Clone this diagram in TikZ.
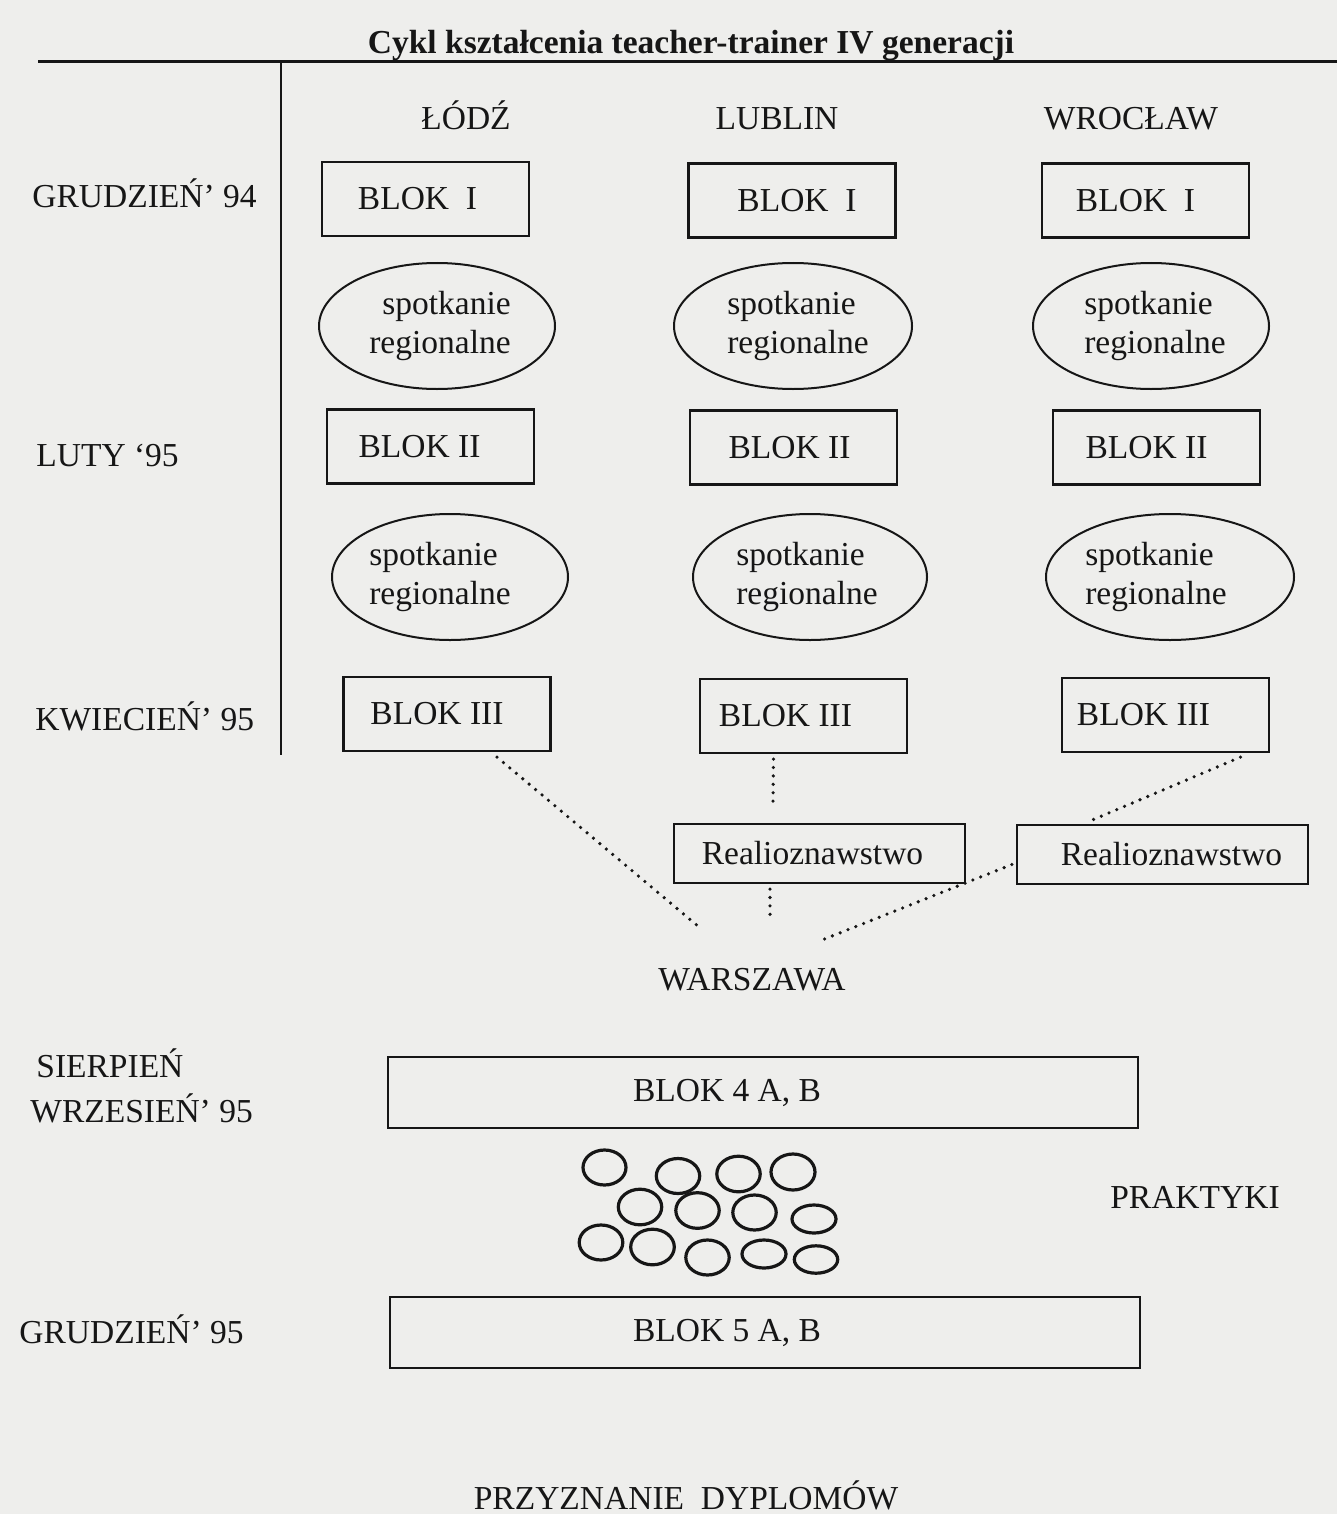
\documentclass[tikz,border=0pt]{standalone}
\usepackage{fontspec}
\setmainfont{Liberation Serif}
\usetikzlibrary{shapes.geometric}
\definecolor{paper}{RGB}{238,238,236}
\definecolor{ink}{RGB}{22,22,22}
\newcommand\pushL[2]{#2\kern#1pt}
\newcommand\pushR[2]{\kern#1pt#2}
\tikzset{
  txt/.style={font=\fontsize{16.75}{19.5}\selectfont, text=ink, inner sep=0pt},
  blok/.style={txt, draw=ink, line width=1.1pt, rectangle, minimum width=103.5pt, minimum height=37pt},
  realio/.style={txt, draw=ink, line width=1.1pt, rectangle, minimum width=145.5pt, minimum height=29.5pt},
  widebox/.style={txt, draw=ink, line width=1.1pt, rectangle, minimum width=375pt, minimum height=35.5pt},
  ovalnode/.style={txt, draw=ink, line width=1pt, ellipse, minimum height=63pt},
  ringnode/.style={draw=ink, line width=1.6pt, ellipse, inner sep=0pt},
  dotline/.style={draw=ink, line width=1.8pt, line cap=round, dash pattern=on 0pt off 4.2pt},
  ruleline/.style={draw=ink, line width=1.5pt},
}
\begin{document}
\begin{tikzpicture}[x=0.5pt,y=-0.5pt]
\fill[paper] (0,0) rectangle (1337,1514);
\useasboundingbox (0,0) rectangle (1337,1514);

% title and frame lines
\node[txt, font={\fontsize{16.75}{19.5}\selectfont\bfseries}, anchor=base] (title) at (691,54) {Cykl kształcenia teacher-trainer IV generacji};
\coordinate (hl) at (38,62); \coordinate (hr) at (1337,62);
\draw[ruleline] (hl) -- (hr);
\coordinate (vt) at (281,62); \coordinate (vb) at (281,755);
\draw[draw=ink, line width=1.1pt] (vt) -- (vb);

% column headers
\node[txt, anchor=base] (hlodz) at (466,130) {ŁÓDŹ};
\node[txt, anchor=base] (hlub) at (777,130) {LUBLIN};
\node[txt, anchor=base] (hwro) at (1131,130) {WROCŁAW};

% row labels
\node[txt, anchor=base west] (r1) at (32,208) {GRUDZIEŃ’ 94};
\node[txt, anchor=base west] (r2) at (36,466) {LUTY ‘95};
\node[txt, anchor=base west] (r3) at (35,730) {KWIECIEŃ’ 95};
\node[txt, anchor=base west] (r4a) at (36,1077) {SIERPIEŃ};
\node[txt, anchor=base west] (r4b) at (30,1122) {WRZESIEŃ’ 95};
\node[txt, anchor=base west] (r5) at (19,1343) {GRUDZIEŃ’ 95};

% BLOK I
\node[blok] (l1) at (425.5,199) {\pushL{8}{BLOK\ \ I}};
\node[blok] (b1) at (792,200.5) {\pushR{5}{BLOK\ \ I}};
\node[blok] (w1) at (1145.5,200.5) {\pushL{10}{BLOK\ \ I}};

% spotkania 1
\node[ovalnode, minimum width=118pt] (e11) at (437,326) {\pushR{3}{\begin{tabular}{@{}r@{}}spotkanie\\regionalne\end{tabular}}};
\node[ovalnode, minimum width=119pt] (e12) at (793,326) {\pushR{5}{\begin{tabular}{@{}l@{}}spotkanie\\regionalne\end{tabular}}};
\node[ovalnode, minimum width=118pt] (e13) at (1151,326) {\pushR{4}{\begin{tabular}{@{}l@{}}spotkanie\\regionalne\end{tabular}}};

% BLOK II
\node[blok] (l2) at (430.5,446.5) {\pushL{11}{BLOK II}};
\node[blok] (b2) at (793.5,447.5) {\pushL{4}{BLOK II}};
\node[blok] (w2) at (1156.5,447.5) {\pushL{10}{BLOK II}};

% spotkania 2
\node[ovalnode, minimum width=118pt] (e21) at (450,577) {\pushL{10}{\begin{tabular}{@{}l@{}}spotkanie\\regionalne\end{tabular}}};
\node[ovalnode, minimum width=117pt] (e22) at (810,577) {\pushL{3}{\begin{tabular}{@{}l@{}}spotkanie\\regionalne\end{tabular}}};
\node[ovalnode, minimum width=124pt] (e23) at (1170,577) {\pushL{14}{\begin{tabular}{@{}l@{}}spotkanie\\regionalne\end{tabular}}};

% BLOK III
\node[blok] (l3) at (447,714) {\pushL{10}{BLOK III}};
\node[blok] (b3) at (803.5,716) {\pushL{18}{BLOK III}};
\node[blok] (w3) at (1165.5,715) {\pushL{22}{BLOK III}};

% Realioznawstwo
\node[realio] (re1) at (819.5,853.5) {\pushL{7}{Realioznawstwo}};
\node[realio] (re2) at (1162.5,854.5) {\pushR{9}{Realioznawstwo}};

% Warszawa
\node[txt, anchor=base] (wars) at (752,990) {WARSZAWA};
\coordinate (warsL) at (699,927);
\coordinate (warsR) at (817,942);
\coordinate (lubEnd) at (773,805);
\coordinate (reEnd) at (770,918);

% dotted connectors
\draw[dotline] (l3.south) ++(50,5) -- (warsL);
\draw[dotline] (b3.south) ++(-30,5) -- (lubEnd);
\draw[dotline] (re1.south) ++(-49.5,5) -- (reEnd);
\draw[dotline] (w3.south) ++(75,4) -- ([xshift=-35pt,yshift=2pt]re2.north);
\draw[dotline] ([xshift=-2pt,yshift=-5pt]re2.west) -- (warsR);

% BLOK 4
\node[widebox] (b4) at (763,1092.5) {\pushL{36}{BLOK 4 A, B}};

% praktyki circles
\node[ringnode, minimum width=21.5pt, minimum height=17.5pt] (c1) at (604.5,1167.5) {};
\node[ringnode, minimum width=21.7pt, minimum height=17.5pt] (c2) at (678,1176) {};
\node[ringnode, minimum width=21.7pt, minimum height=17.8pt] (c3) at (738.5,1174) {};
\node[ringnode, minimum width=22pt, minimum height=18pt] (c4) at (793,1172) {};
\node[ringnode, minimum width=21.7pt, minimum height=17.8pt] (c5) at (640,1207) {};
\node[ringnode, minimum width=21.7pt, minimum height=17.8pt] (c6) at (697.5,1210.5) {};
\node[ringnode, minimum width=21.7pt, minimum height=17.5pt] (c7) at (754.5,1212.5) {};
\node[ringnode, minimum width=22pt, minimum height=14pt] (c8) at (814,1219) {};
\node[ringnode, minimum width=21.8pt, minimum height=17.5pt] (c9) at (601,1242.5) {};
\node[ringnode, minimum width=21.8pt, minimum height=17.8pt] (c10) at (652.5,1247) {};
\node[ringnode, minimum width=21.7pt, minimum height=17.5pt] (c11) at (707.5,1257.5) {};
\node[ringnode, minimum width=22pt, minimum height=14pt] (c12) at (764,1254) {};
\node[ringnode, minimum width=21.7pt, minimum height=13.7pt] (c13) at (816,1259.5) {};

\node[txt, anchor=base] (prak) at (1195,1208) {PRAKTYKI};

% BLOK 5
\node[widebox] (b5) at (765,1332.5) {\pushL{38}{BLOK 5 A, B}};

\node[txt, anchor=base] (dyp) at (686,1509) {PRZYZNANIE\ \ DYPLOMÓW};
\end{tikzpicture}
\end{document}
